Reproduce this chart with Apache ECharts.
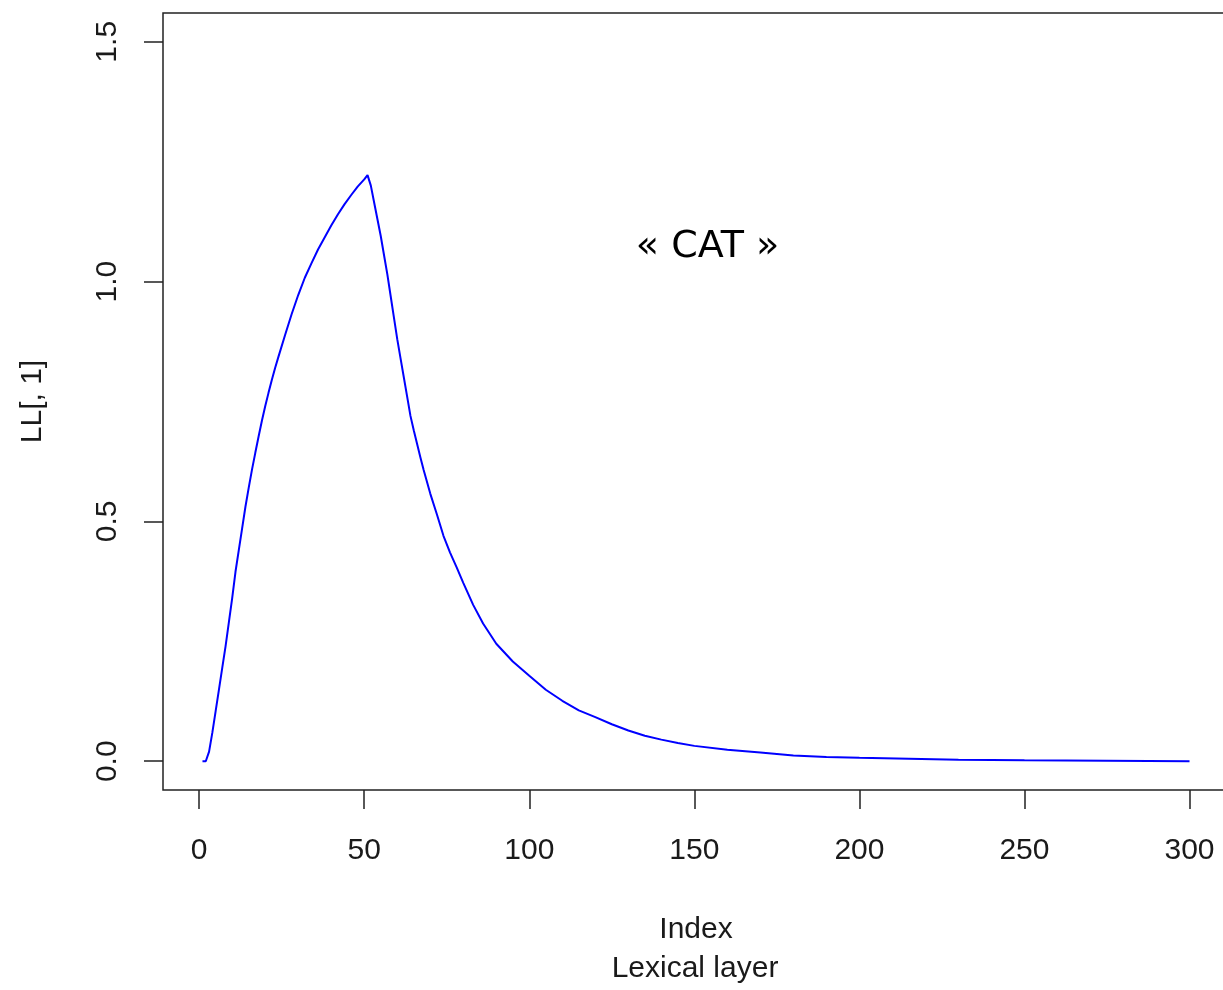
<!DOCTYPE html>
<html>
<head>
<meta charset="utf-8">
<title>LL[, 1] – Lexical layer</title>
<script src="https://cdn.jsdelivr.net/npm/echarts@6/dist/echarts.min.js"></script>
<style>
  html, body { margin: 0; padding: 0; background: #ffffff; }
  #chart { width: 1223px; height: 990px; }
</style>
</head>
<body>
<div id="chart"></div>
<script>
// Activation of the unit "CAT" in the lexical layer over time steps (index)
const stepIndex = [
  1, 2, 3, 4, 5, 6, 7, 8, 9, 10, 11, 12, 13, 14, 15, 16, 17, 18, 19, 20,
  21, 22, 23, 24, 26, 28, 30, 32, 34, 36, 38, 40, 42, 44, 46, 48, 50, 51,
  52, 53, 54, 55, 56, 57, 58, 59, 60, 61, 62, 63, 64, 65, 66, 67, 68, 70,
  72, 74, 76, 78, 80, 83, 86, 90, 95, 100, 105, 110, 115, 120, 125, 130,
  135, 140, 145, 150, 160, 170, 180, 190, 200, 215, 230, 250, 275, 300
];
const activation = [
  0.000, 0.000, 0.020, 0.060, 0.105, 0.150, 0.195, 0.240, 0.290, 0.340,
  0.395, 0.440, 0.485, 0.530, 0.570, 0.608, 0.643, 0.677, 0.710, 0.740,
  0.768, 0.795, 0.820, 0.843, 0.888, 0.932, 0.972, 1.008, 1.038, 1.067,
  1.092, 1.117, 1.140, 1.161, 1.180, 1.198, 1.213, 1.222,
  1.200, 1.165, 1.130, 1.095, 1.055, 1.015, 0.970, 0.925, 0.880, 0.840,
  0.800, 0.760, 0.720, 0.690, 0.662, 0.634, 0.607, 0.558,
  0.515, 0.470, 0.435, 0.404, 0.372, 0.326, 0.287, 0.245, 0.208, 0.178,
  0.149, 0.126, 0.106, 0.092, 0.077, 0.064,
  0.053, 0.045, 0.038, 0.032, 0.024, 0.018, 0.012, 0.009, 0.007, 0.005,
  0.003, 0.002, 0.001, 0.000
];
const xTicks = [0, 50, 100, 150, 200, 250, 300];
const yTicks = [0, 0.5, 1.0, 1.5];
const wordLabel = '« CAT »';
const wordAnchor = [154, 1.071];

const seriesData = stepIndex.map((x, i) => [x, activation[i]]);

const textColor = '#1a1a1a';
const baseFont = '"Liberation Sans", Arial, sans-serif';

const chart = echarts.init(document.getElementById('chart'), null, { renderer: 'canvas' });

chart.setOption({
  backgroundColor: '#ffffff',
  animation: false,
  grid: {
    // the plot box runs slightly past the right edge of the canvas
    left: 163, top: 13, width: 1066, bottom: 200,
    outerBoundsMode: 'none',
    show: true, borderColor: '#222222', borderWidth: 1.5,
    backgroundColor: 'transparent'
  },
  xAxis: {
    type: 'value',
    min: -10.96, max: 311.96,
    name: 'Index',
    nameLocation: 'middle',
    nameGap: 125,
    nameTextStyle: { fontFamily: baseFont, fontSize: 30, color: textColor },
    axisLine: { show: false, onZero: false },
    splitLine: { show: false },
    axisTick: {
      show: true, inside: false, length: 19, customValues: xTicks,
      lineStyle: { color: '#222222', width: 1.5 }
    },
    axisLabel: {
      customValues: xTicks, margin: 46,
      fontFamily: baseFont, fontSize: 30, color: textColor,
      formatter: v => String(v)
    }
  },
  yAxis: {
    type: 'value',
    min: -0.06, max: 1.56,
    name: 'LL[, 1]',
    nameLocation: 'middle',
    nameGap: 115,
    nameRotate: 90,
    nameTextStyle: { fontFamily: baseFont, fontSize: 30, color: textColor },
    axisLine: { show: false, onZero: false },
    splitLine: { show: false },
    axisTick: {
      show: true, inside: false, length: 19, customValues: yTicks,
      lineStyle: { color: '#222222', width: 1.5 }
    },
    axisLabel: {
      customValues: yTicks, margin: 40, rotate: 90,
      fontFamily: baseFont, fontSize: 30, color: textColor,
      formatter: v => v.toFixed(1)
    }
  },
  series: [{
    type: 'line',
    data: seriesData,
    showSymbol: false,
    smooth: false,
    lineStyle: { color: '#0000ff', width: 2 },
    z: 3
  }]
});

// Word label inside the plot and the sub-title under the x-axis title
const anchorPx = chart.convertToPixel({ gridIndex: 0 }, wordAnchor);
chart.setOption({
  graphic: [
    {
      type: 'text',
      x: anchorPx[0], y: anchorPx[1],
      style: {
        text: wordLabel,
        fontFamily: '"DejaVu Sans", Verdana, sans-serif',
        fontSize: 38, fill: '#000000',
        align: 'center', verticalAlign: 'middle'
      }
    },
    {
      type: 'text',
      x: 695, y: 969,
      style: {
        text: 'Lexical layer',
        fontFamily: baseFont, fontSize: 30, fill: textColor,
        align: 'center', verticalAlign: 'middle'
      }
    }
  ]
});
</script>
</body>
</html>
